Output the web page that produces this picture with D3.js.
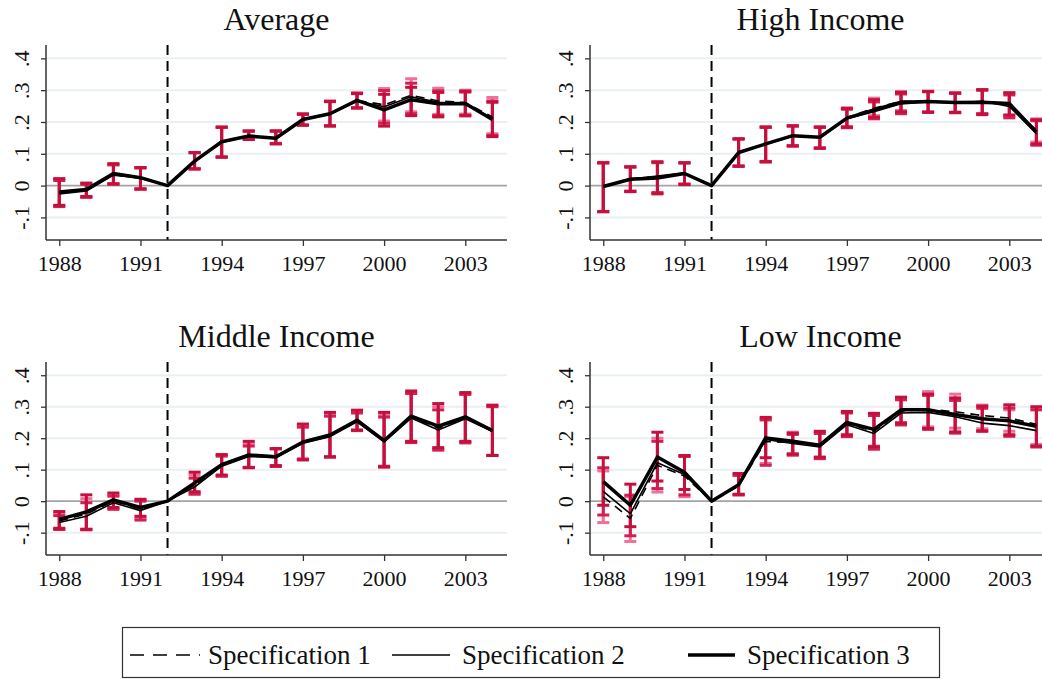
<!DOCTYPE html>
<html>
<head>
<meta charset="utf-8">
<script src="https://cdn.jsdelivr.net/npm/d3@7"></script>
<style>
  html, body { margin: 0; padding: 0; background: #fff; }
  svg { display: block; font-family: "Liberation Serif", "Times New Roman", serif; }
  svg text { font-family: "Liberation Serif", "Times New Roman", serif; }
</style>
</head>
<body>
<svg id="chart" width="1042" height="679"></svg>
<script>
// Event-study coefficients, 1988–2004, reference year 1992 normalised to zero
const years = [1988, 1989, 1990, 1991, 1992, 1993, 1994, 1995, 1996, 1997, 1998, 1999, 2000, 2001, 2002, 2003, 2004];
const baseYear = 1992;
const xTickYears = [1988, 1991, 1994, 1997, 2000, 2003];
const yTicks = [-0.1, 0, 0.1, 0.2, 0.3, 0.4];
const yTickLabels = ["-.1", "0", ".1", ".2", ".3", ".4"];
const panelTitles = ["Average", "High Income", "Middle Income", "Low Income"];
const specNames = ["Specification 1", "Specification 2", "Specification 3"];

// Average
const avgEst1 = [-0.023, -0.014, 0.035, 0.023, 0, 0.078, 0.138, 0.157, 0.150, 0.209, 0.227, 0.268, 0.254, 0.284, 0.266, 0.261, 0.216];
const avgLo1  = [-0.064, -0.036, 0.005, -0.012, null, 0.053, 0.091, 0.147, 0.133, 0.191, 0.189, 0.245, 0.203, 0.232, 0.224, 0.225, 0.163];
const avgHi1  = [0.019, 0.006, 0.067, 0.055, null, 0.104, 0.184, 0.171, 0.172, 0.226, 0.266, 0.292, 0.305, 0.336, 0.306, 0.300, 0.277];
const avgEst2 = [-0.026, -0.017, 0.033, 0.024, 0, 0.078, 0.137, 0.155, 0.148, 0.207, 0.225, 0.266, 0.248, 0.279, 0.262, 0.256, 0.212];
const avgLo2  = [-0.066, -0.037, 0.004, -0.011, null, 0.053, 0.090, 0.146, 0.132, 0.190, 0.188, 0.244, 0.196, 0.226, 0.220, 0.219, 0.158];
const avgHi2  = [0.016, 0.004, 0.065, 0.056, null, 0.104, 0.183, 0.171, 0.171, 0.224, 0.264, 0.289, 0.299, 0.322, 0.298, 0.294, 0.266];
const avgEst3 = [-0.020, -0.012, 0.038, 0.025, 0, 0.077, 0.138, 0.156, 0.149, 0.208, 0.226, 0.268, 0.238, 0.270, 0.257, 0.258, 0.208];
const avgLo3  = [-0.062, -0.034, 0.006, -0.010, null, 0.052, 0.089, 0.145, 0.131, 0.190, 0.187, 0.244, 0.187, 0.220, 0.216, 0.221, 0.154];
const avgHi3  = [0.022, 0.008, 0.069, 0.057, null, 0.103, 0.184, 0.172, 0.172, 0.225, 0.265, 0.290, 0.287, 0.309, 0.293, 0.297, 0.262];

// High income
const highEst1 = [-0.002, 0.022, 0.028, 0.039, 0, 0.105, 0.131, 0.157, 0.152, 0.214, 0.243, 0.265, 0.264, 0.262, 0.264, 0.255, 0.174];
const highLo1  = [-0.081, -0.017, -0.024, 0.004, null, 0.061, 0.075, 0.126, 0.119, 0.186, 0.220, 0.236, 0.232, 0.231, 0.226, 0.219, 0.137];
const highHi1  = [0.073, 0.060, 0.074, 0.072, null, 0.148, 0.185, 0.188, 0.185, 0.244, 0.275, 0.296, 0.297, 0.292, 0.301, 0.291, 0.210];
const highEst2 = [-0.004, 0.021, 0.030, 0.040, 0, 0.104, 0.130, 0.156, 0.151, 0.210, 0.232, 0.257, 0.263, 0.260, 0.265, 0.249, 0.163];
const highLo2  = [-0.082, -0.018, -0.022, 0.005, null, 0.060, 0.074, 0.124, 0.117, 0.182, 0.210, 0.226, 0.230, 0.229, 0.226, 0.213, 0.127];
const highHi2  = [0.071, 0.058, 0.072, 0.071, null, 0.146, 0.183, 0.187, 0.183, 0.240, 0.263, 0.288, 0.295, 0.290, 0.302, 0.285, 0.204];
const highEst3 = [-0.003, 0.020, 0.024, 0.038, 0, 0.104, 0.131, 0.157, 0.152, 0.212, 0.238, 0.262, 0.264, 0.261, 0.262, 0.258, 0.168];
const highLo3  = [-0.082, -0.019, -0.026, 0.003, null, 0.062, 0.076, 0.125, 0.118, 0.184, 0.215, 0.232, 0.231, 0.230, 0.223, 0.222, 0.131];
const highHi3  = [0.072, 0.059, 0.075, 0.072, null, 0.147, 0.184, 0.188, 0.184, 0.243, 0.270, 0.293, 0.296, 0.291, 0.300, 0.292, 0.207];

// Middle income
const midEst1 = [-0.063, -0.041, 0.000, -0.025, 0, 0.051, 0.113, 0.145, 0.140, 0.186, 0.208, 0.255, 0.190, 0.267, 0.232, 0.265, 0.223];
const midLo1  = [-0.088, -0.090, -0.023, -0.055, null, 0.026, 0.081, 0.108, 0.112, 0.132, 0.141, 0.225, 0.110, 0.188, 0.166, 0.188, 0.146];
const midHi1  = [-0.040, 0.008, 0.020, 0.003, null, 0.083, 0.146, 0.182, 0.167, 0.240, 0.276, 0.285, 0.275, 0.346, 0.300, 0.342, 0.303];
const midEst2 = [-0.068, -0.048, -0.005, -0.030, 0, 0.045, 0.111, 0.142, 0.138, 0.184, 0.205, 0.252, 0.188, 0.264, 0.226, 0.262, 0.222];
const midLo2  = [-0.090, -0.091, -0.026, -0.060, null, 0.022, 0.079, 0.107, 0.110, 0.134, 0.141, 0.224, 0.111, 0.186, 0.162, 0.185, 0.145];
const midHi2  = [-0.046, -0.005, 0.016, 0.000, null, 0.073, 0.143, 0.175, 0.166, 0.235, 0.270, 0.280, 0.267, 0.342, 0.290, 0.339, 0.300];
const midEst3 = [-0.058, -0.034, 0.004, -0.020, 0, 0.058, 0.116, 0.147, 0.141, 0.188, 0.210, 0.257, 0.192, 0.270, 0.238, 0.268, 0.224];
const midLo3  = [-0.086, -0.089, -0.020, -0.048, null, 0.030, 0.083, 0.106, 0.113, 0.131, 0.140, 0.226, 0.108, 0.190, 0.170, 0.190, 0.145];
const midHi3  = [-0.033, 0.020, 0.026, 0.006, null, 0.092, 0.148, 0.190, 0.167, 0.245, 0.282, 0.289, 0.282, 0.350, 0.310, 0.345, 0.305];

// Low income
const lowEst1 = [0.014, -0.055, 0.114, 0.080, 0, 0.048, 0.190, 0.186, 0.175, 0.247, 0.222, 0.286, 0.292, 0.284, 0.272, 0.264, 0.244];
const lowLo1  = [-0.068, -0.128, 0.029, 0.014, null, 0.020, 0.120, 0.150, 0.138, 0.212, 0.175, 0.250, 0.236, 0.232, 0.230, 0.222, 0.180];
const lowHi1  = [0.096, 0.014, 0.200, 0.143, null, 0.082, 0.262, 0.219, 0.220, 0.284, 0.276, 0.330, 0.348, 0.340, 0.305, 0.290, 0.296];
const lowEst2 = [0.031, -0.040, 0.122, 0.085, 0, 0.050, 0.196, 0.183, 0.172, 0.243, 0.215, 0.280, 0.282, 0.268, 0.248, 0.240, 0.224];
const lowLo2  = [-0.044, -0.110, 0.040, 0.020, null, 0.020, 0.114, 0.146, 0.135, 0.205, 0.165, 0.242, 0.228, 0.216, 0.222, 0.206, 0.172];
const lowHi2  = [0.106, 0.019, 0.190, 0.142, null, 0.082, 0.258, 0.212, 0.215, 0.280, 0.272, 0.322, 0.336, 0.320, 0.295, 0.296, 0.290];
const lowEst3 = [0.062, -0.013, 0.140, 0.092, 0, 0.052, 0.201, 0.190, 0.178, 0.250, 0.228, 0.290, 0.290, 0.275, 0.262, 0.255, 0.238];
const lowLo3  = [-0.013, -0.081, 0.064, 0.037, null, 0.022, 0.138, 0.150, 0.140, 0.210, 0.173, 0.248, 0.231, 0.220, 0.223, 0.211, 0.175];
const lowHi3  = [0.138, 0.054, 0.219, 0.145, null, 0.088, 0.266, 0.216, 0.222, 0.285, 0.279, 0.330, 0.340, 0.328, 0.302, 0.306, 0.300];

const panelData = [
  [[avgEst1, avgLo1, avgHi1], [avgEst2, avgLo2, avgHi2], [avgEst3, avgLo3, avgHi3]],
  [[highEst1, highLo1, highHi1], [highEst2, highLo2, highHi2], [highEst3, highLo3, highHi3]],
  [[midEst1, midLo1, midHi1], [midEst2, midLo2, midHi2], [midEst3, midLo3, midHi3]],
  [[lowEst1, lowLo1, lowHi1], [lowEst2, lowLo2, lowHi2], [lowEst3, lowLo3, lowHi3]]
];

// ---- styling and layout ----
const serif = "'Liberation Serif', 'Times New Roman', serif";
const ciColors = ["#ef7099", "#d41f52", "#c3103c"];
const lineWidths = [1.6, 1.6, 3.5];
const lineDash = ["9,6", null, null];
const plotW = 461;
const panels = [
  { x: 46,  top: 45,  bottom: 240 },
  { x: 590, top: 45,  bottom: 240 },
  { x: 46,  top: 362, bottom: 555 },
  { x: 590, top: 362, bottom: 555 }
];

const svg = d3.select("#chart");

panels.forEach((p, i) => {
  const g = svg.append("g");
  const x = d3.scaleLinear().domain([1987.51, 2004.54]).range([p.x, p.x + plotW]);
  const y = d3.scaleLinear().domain([-0.171, 0.442]).range([p.bottom, p.top]);

  // horizontal grid
  g.selectAll("line.grid")
    .data(yTicks.filter(t => t !== 0))
    .join("line")
    .attr("x1", p.x).attr("x2", p.x + plotW)
    .attr("y1", d => y(d)).attr("y2", d => y(d))
    .attr("stroke", "#e9eff3").attr("stroke-width", 2);

  // zero line
  g.append("line")
    .attr("x1", p.x).attr("x2", p.x + plotW)
    .attr("y1", y(0)).attr("y2", y(0))
    .attr("stroke", "#a3a3a3").attr("stroke-width", 1.8);

  // reference-year marker
  g.append("line")
    .attr("x1", x(baseYear)).attr("x2", x(baseYear))
    .attr("y1", p.top).attr("y2", p.bottom)
    .attr("stroke", "#000").attr("stroke-width", 2)
    .attr("stroke-dasharray", "10,6");

  // confidence intervals
  panelData[i].forEach(([est, lo, hi], s) => {
    const rows = years.map((yr, k) => ({ yr, lo: lo[k], hi: hi[k] })).filter(r => r.lo !== null);
    const eg = g.append("g").attr("stroke", ciColors[s]).attr("stroke-width", 3).attr("fill", "none");
    eg.selectAll("line.v").data(rows).join("line")
      .attr("x1", d => x(d.yr)).attr("x2", d => x(d.yr))
      .attr("y1", d => y(d.lo)).attr("y2", d => y(d.hi));
    ["lo", "hi"].forEach(k => {
      eg.selectAll("line.c" + k).data(rows).join("line")
        .attr("x1", d => x(d.yr) - 6).attr("x2", d => x(d.yr) + 6)
        .attr("y1", d => y(d[k])).attr("y2", d => y(d[k]));
    });
  });

  // point-estimate lines
  const line = d3.line().x((d, k) => x(years[k])).y(d => y(d));
  panelData[i].forEach(([est], s) => {
    g.append("path")
      .attr("d", line(est))
      .attr("fill", "none")
      .attr("stroke", "#000")
      .attr("stroke-width", lineWidths[s])
      .attr("stroke-linejoin", "round")
      .attr("stroke-dasharray", lineDash[s]);
  });

  // axes
  const xAxis = d3.axisBottom(x).tickValues(xTickYears).tickFormat(d3.format("d")).tickSize(6).tickPadding(9);
  const gx = g.append("g").attr("transform", `translate(0,${p.bottom})`).call(xAxis)
    .attr("font-family", serif).attr("font-size", 22);
  gx.select(".domain").attr("stroke", "#333").attr("stroke-width", 1.5).attr("d", `M${p.x},0H${p.x + plotW}`);
  gx.selectAll(".tick line").attr("stroke", "#333").attr("stroke-width", 1.3);
  gx.selectAll(".tick text").attr("fill", "#111");

  const yAxis = d3.axisLeft(y).tickValues(yTicks).tickFormat((d, k) => yTickLabels[k]).tickSize(5);
  const gy = g.append("g").attr("transform", `translate(${p.x},0)`).call(yAxis)
    .attr("font-family", serif).attr("font-size", 22);
  gy.select(".domain").attr("stroke", "#333").attr("stroke-width", 1.5).attr("d", `M0,${p.top}V${p.bottom}`);
  gy.selectAll(".tick line").attr("stroke", "#333").attr("stroke-width", 1.3);
  gy.selectAll(".tick text")
    .attr("fill", "#111")
    .attr("transform", "rotate(-90)")
    .attr("text-anchor", "middle")
    .attr("x", 0).attr("y", -17).attr("dy", 0);

  // title
  g.append("text")
    .attr("x", p.x + plotW / 2)
    .attr("y", p.top - 15)
    .attr("text-anchor", "middle")
    .attr("fill", "#111")
    .attr("font-family", serif)
    .attr("font-size", 32)
    .text(panelTitles[i]);
});

// legend
const lg = svg.append("g").attr("font-family", serif);
lg.append("rect").attr("x", 122.5).attr("y", 627.5).attr("width", 817).attr("height", 50)
  .attr("fill", "#fff").attr("stroke", "#333").attr("stroke-width", 1.2);
const legendItems = [
  { x1: 130, x2: 200, tx: 208 },
  { x1: 392, x2: 450, tx: 462 },
  { x1: 688, x2: 735, tx: 747 }
];
legendItems.forEach((it, s) => {
  lg.append("line").attr("x1", it.x1).attr("x2", it.x2).attr("y1", 655).attr("y2", 655)
    .attr("stroke", "#000").attr("stroke-width", lineWidths[s])
    .attr("stroke-dasharray", s === 0 ? "14,9" : null);
  lg.append("text").attr("x", it.tx).attr("y", 664).attr("fill", "#111")
    .attr("font-size", 27).text(specNames[s]);
});
</script>
</body>
</html>
